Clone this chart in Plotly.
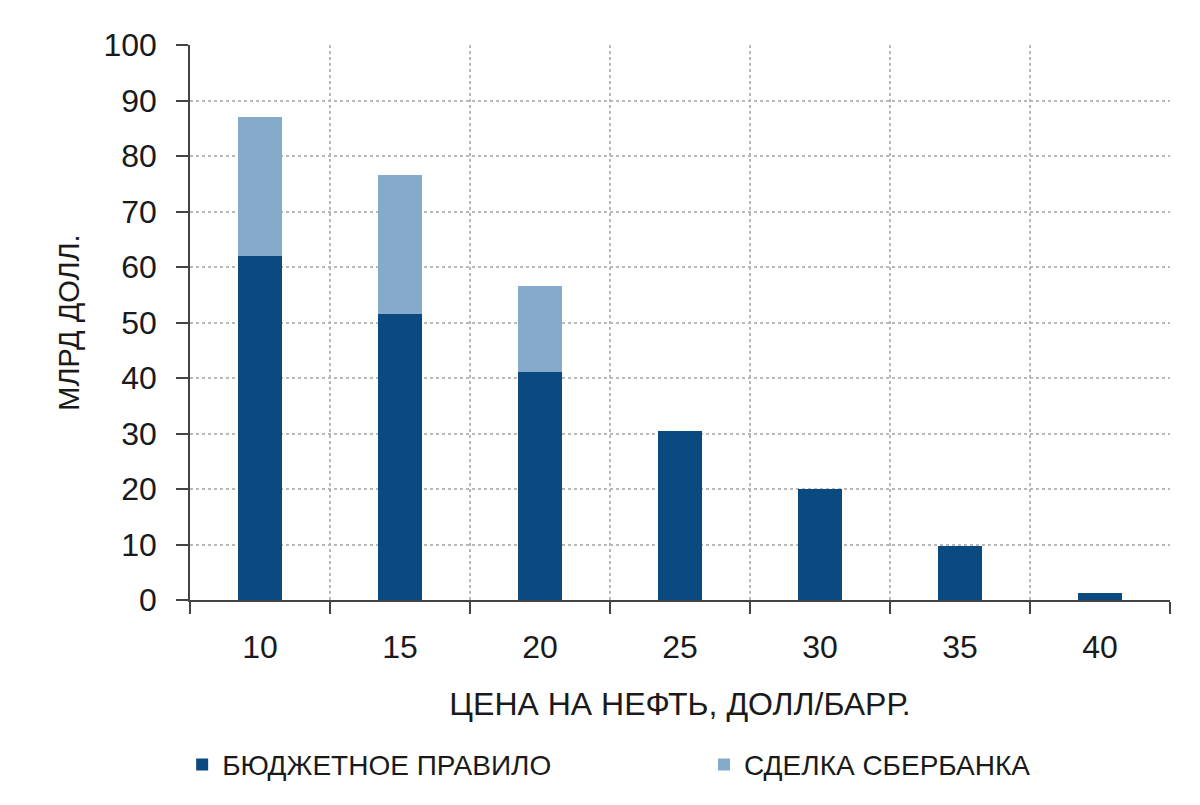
import plotly.graph_objects as go

categories = ["10", "15", "20", "25", "30", "35", "40"]
budget_rule = [62, 51.5, 41, 30.5, 20, 9.7, 1.2]
sber_deal = [25, 25, 15.5, 0, 0, 0, 0]
y_ticks = [0, 10, 20, 30, 40, 50, 60, 70, 80, 90, 100]

FONT = "Liberation Sans Narrow, Arial Narrow, Liberation Sans, sans-serif"
DARK = "#0A4A80"
LIGHT = "#86AACB"

fig = go.Figure()
fig.add_trace(go.Bar(x=categories, y=budget_rule, name="БЮДЖЕТНОЕ ПРАВИЛО",
                     marker=dict(color=DARK, line=dict(width=0)), width=0.31,
                     legend="legend"))
fig.add_trace(go.Bar(x=categories, y=sber_deal, name="СДЕЛКА СБЕРБАНКА",
                     marker=dict(color=LIGHT, line=dict(width=0)), width=0.31,
                     legend="legend2"))

legend_common = dict(orientation="h", xanchor="left", y=-0.297, yanchor="middle",
                     font=dict(size=28, family=FONT), bgcolor="rgba(0,0,0,0)")

fig.update_layout(
    barmode="stack",
    width=1200, height=805,
    margin=dict(l=182, r=38, t=37, b=213, autoexpand=False),
    paper_bgcolor="white", plot_bgcolor="white",
    font=dict(family=FONT, color="#1a1a1a", size=28),
    showlegend=True,
    legend=dict(x=-0.008, **legend_common),
    legend2=dict(x=0.5245, **legend_common),
    xaxis=dict(
        type="category", tickson="boundaries", automargin=False,
        showgrid=True, gridcolor="#b8b8b8", griddash="dot", gridwidth=1.5,
        ticks="outside", ticklen=12, tickcolor="#444", tickwidth=1.5,
        showline=True, linecolor="#444", linewidth=1.5,
        tickfont=dict(size=32, family=FONT), ticklabelstandoff=18,
        title=dict(text="ЦЕНА НА НЕФТЬ, ДОЛЛ/БАРР.", font=dict(size=32, family=FONT), standoff=28),
        range=[-0.5, 6.5],
    ),
    yaxis=dict(
        range=[0, 100], tickvals=y_ticks, automargin=False,
        showgrid=True, gridcolor="#b8b8b8", griddash="dot", gridwidth=1.5,
        ticks="outside", ticklen=12, tickcolor="#444", tickwidth=1.5,
        showline=True, linecolor="#444", linewidth=1.5,
        tickfont=dict(size=32, family=FONT), ticklabelstandoff=13,
        zeroline=False,
        title=dict(text="МЛРД ДОЛЛ.", font=dict(size=29, family=FONT), standoff=15),
    ),
)

fig.write_html("out.html")
